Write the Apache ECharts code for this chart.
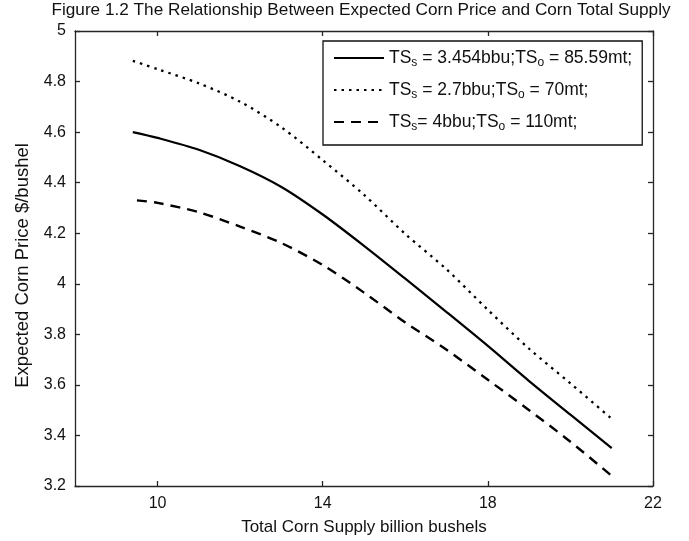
<!DOCTYPE html>
<html>
<head>
<meta charset="utf-8">
<script src="https://cdn.jsdelivr.net/npm/echarts@6/dist/echarts.min.js"></script>
<style>
  html, body { margin: 0; padding: 0; background: #fff; }
  #chart { width: 689px; height: 541px; }
</style>
</head>
<body>
<div id="chart"></div>
<script>
// Total corn supply (billion bushels)
var supply = [9.4, 10, 11, 12, 13, 14, 15, 16, 17, 18, 19, 20, 21];
// Expected corn price ($/bushel) for each stock scenario
var priceBase = [4.60, 4.577, 4.530, 4.465, 4.383, 4.274, 4.150, 4.020, 3.888, 3.754, 3.615, 3.482, 3.350];
var priceLow  = [4.882, 4.849, 4.793, 4.720, 4.619, 4.489, 4.352, 4.197, 4.057, 3.897, 3.743, 3.606, 3.466];
var dashSupply = [9.5, 10, 11, 12, 13, 14, 15, 16, 17, 18, 19, 20, 21];
var priceHigh = [4.330, 4.320, 4.283, 4.226, 4.161, 4.074, 3.965, 3.847, 3.739, 3.620, 3.500, 3.375, 3.240];
var xTicks = [10, 14, 18, 22];

function pairs(xs, ys) { return xs.map(function (x, i) { return [x, ys[i]]; }); }

var FONT = 'Liberation Sans';
var AX = '#262626';

var chart = echarts.init(document.getElementById('chart'), null, { renderer: 'canvas' });

// main text plus a lowered, smaller subscript
var subRich = {
  a: { fontFamily: FONT, fontSize: 17.5, color: '#111', lineHeight: 22, verticalAlign: 'middle' },
  s: { fontFamily: FONT, fontSize: 12, color: '#111', lineHeight: 6, verticalAlign: 'bottom' }
};

var legendText = {
  'base': '{a|TS}{s|s}{a| = 3.454bbu;TS}{s|o}{a| = 85.59mt;}',
  'low':  '{a|TS}{s|s}{a| = 2.7bbu;TS}{s|o}{a| = 70mt;}',
  'high': '{a|TS}{s|s}{a|= 4bbu;TS}{s|o}{a| = 110mt;}'
};

chart.setOption({
  backgroundColor: '#fff',
  animation: false,
  title: {
    text: 'Figure 1.2 The Relationship Between Expected Corn Price and Corn Total Supply',
    left: 356, top: -3, textAlign: 'center',
    textStyle: { fontFamily: FONT, fontSize: 17.2, fontWeight: 'normal', color: '#111' }
  },
  legend: {
    orient: 'vertical',
    left: 323, top: 41,
    padding: [8, 10, 12, 10],
    itemGap: 12,
    itemWidth: 50,
    itemHeight: 14,
    borderColor: '#111', borderWidth: 1.3,
    backgroundColor: '#fff',
    selectedMode: false,
    itemStyle: { opacity: 0 },
    data: ['base', 'low', 'high'],
    formatter: function (name) { return legendText[name]; },
    textStyle: { rich: subRich }
  },
  grid: { left: 75, right: 36, top: 31, bottom: 54, containLabel: false },
  xAxis: [{
    type: 'value', min: 8, max: 22,
    name: 'Total Corn Supply billion bushels',
    nameLocation: 'middle', nameGap: 33,
    nameTextStyle: { fontFamily: FONT, fontSize: 17, color: '#111' },
    axisLine: { onZero: false, lineStyle: { color: AX, width: 1.3 } },
    axisTick: { inside: true, length: 5, customValues: xTicks, lineStyle: { color: AX, width: 1.3 } },
    axisLabel: { customValues: xTicks, fontFamily: FONT, fontSize: 16, color: '#111', margin: 10 },
    splitLine: { show: false }
  }, {
    type: 'value', min: 8, max: 22, position: 'top',
    axisLine: { onZero: false, lineStyle: { color: AX, width: 1.3 } },
    axisTick: { inside: true, length: 5, customValues: xTicks, lineStyle: { color: AX, width: 1.3 } },
    axisLabel: { show: false },
    splitLine: { show: false }
  }],
  yAxis: [{
    type: 'value', min: 3.2, max: 5, interval: 0.2,
    name: 'Expected Corn Price $/bushel',
    nameLocation: 'middle', nameGap: 40,
    nameTextStyle: { fontFamily: FONT, fontSize: 18.5, color: '#111', padding: [0, 14, 0, 0] },
    axisLine: { show: true, onZero: false, lineStyle: { color: AX, width: 1.3 } },
    axisTick: { show: true, inside: true, length: 5, lineStyle: { color: AX, width: 1.3 } },
    axisLabel: { fontFamily: FONT, fontSize: 16, color: '#111', margin: 9 },
    splitLine: { show: false }
  }, {
    type: 'value', min: 3.2, max: 5, interval: 0.2, position: 'right',
    axisLine: { show: true, onZero: false, lineStyle: { color: AX, width: 1.3 } },
    axisTick: { show: true, inside: true, length: 5, lineStyle: { color: AX, width: 1.3 } },
    axisLabel: { show: false },
    splitLine: { show: false }
  }],
  series: [{
    name: 'base', type: 'line', symbol: 'none', smooth: 0.3,
    data: pairs(supply, priceBase),
    lineStyle: { color: '#000', width: 2.2, type: 'solid' },
    itemStyle: { color: '#000' }
  }, {
    name: 'low', type: 'line', symbol: 'none', smooth: 0.3,
    data: pairs(supply, priceLow),
    lineStyle: { color: '#000', width: 2.3, type: [2.5, 5] },
    itemStyle: { color: '#000' }
  }, {
    name: 'high', type: 'line', symbol: 'none', smooth: 0.3,
    data: pairs(dashSupply, priceHigh),
    lineStyle: { color: '#000', width: 2.4, type: [10, 7] },
    itemStyle: { color: '#000' }
  }]
});
</script>
</body>
</html>
